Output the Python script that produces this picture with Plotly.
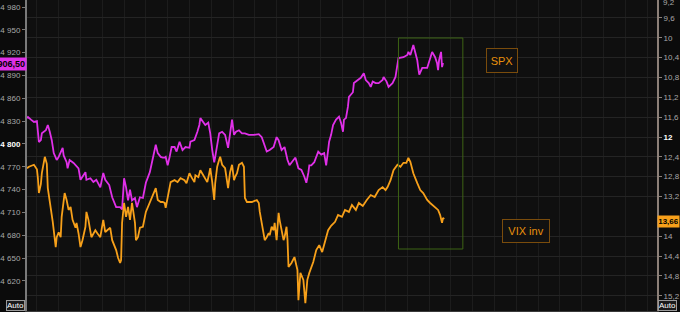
import plotly.graph_objects as go

# ---- data (time index = bar number) ----
spx_bar = [0, 1, 4, 7, 10, 12, 14, 15, 19, 21, 23, 25, 27, 30, 32, 34, 36, 37, 40, 41, 43, 47, 52, 54, 56, 59, 60, 64,
           67, 70, 74, 77, 79, 81, 83, 86, 90, 94, 96, 98, 100, 102, 104, 106, 109, 111, 114, 117, 120, 124, 127, 130,
           132, 135, 137, 139, 140, 142, 144, 145, 146, 149, 151, 154, 157, 160, 164, 165, 169, 172, 174, 175, 178, 180,
           183, 185, 187, 189, 190, 194, 197, 200, 203, 205, 207, 209, 211, 214, 217, 220, 224, 229, 234, 237, 239, 242,
           245, 249, 252, 254, 257, 260, 263, 265, 269, 271, 274, 277, 280, 282, 284, 285, 287, 290, 294, 297, 300, 302,
           304, 305, 307, 309, 312, 315, 317, 319, 320, 322, 324, 325, 329, 330, 334, 337, 340, 342, 345, 347, 349, 352,
           355, 359, 360, 363, 365, 369, 372, 374, 375, 380, 384, 385, 387, 390, 392, 394, 395, 396, 399, 404, 405, 407,
           409, 412, 414, 415, 416, 418, 419, 420]
spx_val = [4834, 4835.5, 4832, 4829, 4830, 4802.6, 4805, 4814, 4818, 4825, 4816, 4805, 4788, 4779, 4783, 4788, 4795,
           4785, 4776, 4768, 4779, 4775, 4768, 4753, 4757, 4763, 4753, 4755, 4750, 4753, 4743, 4762, 4753, 4749, 4746,
           4730, 4717, 4717, 4714, 4755, 4743, 4726, 4740, 4726, 4729, 4717, 4730, 4729, 4749, 4763, 4782, 4799, 4788,
           4783, 4782, 4782, 4783, 4772, 4783, 4792, 4796, 4796, 4790, 4803, 4792, 4796, 4795, 4803, 4805, 4816, 4825,
           4834, 4828, 4825, 4828, 4814, 4792, 4776, 4783, 4814, 4816, 4812, 4795, 4814, 4832, 4812, 4816, 4818, 4814,
           4814, 4812, 4812, 4813, 4809, 4801, 4790, 4792, 4796, 4809, 4805, 4792, 4796, 4779, 4772, 4779, 4782, 4768,
           4766, 4757, 4749, 4762, 4772, 4772, 4776, 4790, 4786, 4788, 4772, 4792, 4803, 4812, 4825, 4832, 4836, 4828,
           4816, 4832, 4834, 4849, 4862, 4868, 4880, 4884, 4887, 4893, 4884, 4880, 4875, 4882, 4880, 4880, 4884, 4888,
           4882, 4875, 4880, 4888, 4906, 4913, 4914, 4917, 4921, 4917, 4930, 4920, 4910, 4900, 4891, 4900, 4900, 4904,
           4914, 4921, 4914, 4906, 4897, 4910, 4921, 4901, 4906.5]

vix_bar = [0, 2, 7, 10, 11, 12, 14, 15, 18, 20, 21, 24, 26, 29, 30, 32, 34, 35, 38, 40, 42, 44, 46, 49, 50, 52, 54, 56,
           59, 60, 62, 65, 69, 71, 74, 77, 79, 81, 84, 86, 90, 92, 94, 95, 96, 98, 100, 102, 104, 106, 109, 110, 112,
           114, 117, 120, 124, 126, 130, 132, 135, 137, 139, 140, 142, 145, 149, 152, 155, 159, 161, 164, 166, 169, 170,
           173, 175, 178, 180, 182, 184, 185, 187, 189, 190, 192, 194, 195, 197, 200, 203, 205, 207, 209, 210, 212, 214,
           217, 219, 220, 222, 227, 232, 234, 235, 237, 240, 242, 244, 245, 247, 249, 250, 252, 254, 255, 257, 259, 260,
           262, 263, 264, 267, 270, 273, 274, 276, 279, 281, 283, 285, 286, 289, 292, 295, 298, 301, 304, 307, 311, 314,
           318, 321, 325, 328, 332, 335, 339, 343, 347, 351, 355, 359, 362, 364, 367, 370, 374, 377, 380, 383, 385, 387,
           390, 394, 397, 400, 404, 407, 409, 412, 415, 417, 419, 420, 421]
vix_val = [12.63, 12.60, 12.56, 12.65, 12.83, 13.13, 12.95, 12.73, 12.40, 12.54, 13.03, 13.41, 13.71, 14.22, 14.02,
           13.92, 14.02, 13.61, 13.13, 13.27, 13.47, 13.41, 13.67, 13.83, 13.73, 13.94, 14.22, 14.08, 13.81, 13.51,
           13.67, 14.02, 13.88, 13.94, 14.02, 13.67, 13.92, 13.88, 13.83, 14.08, 14.28, 14.44, 14.54, 14.48, 13.73,
           13.33, 13.61, 13.41, 13.67, 13.33, 13.73, 14.08, 14.02, 13.83, 13.81, 13.51, 13.33, 13.21, 13.03, 13.27,
           13.31, 13.31, 13.33, 13.43, 13.21, 12.91, 12.87, 12.91, 12.83, 12.87, 12.93, 12.73, 12.81, 12.91, 12.77,
           12.81, 12.67, 12.77, 12.83, 12.91, 12.73, 12.63, 12.91, 13.27, 12.93, 12.60, 12.46, 12.40, 12.56, 12.63,
           13.03, 12.71, 12.56, 12.87, 12.81, 12.73, 12.56, 12.52, 12.60, 13.23, 13.31, 13.31, 13.27, 13.33, 13.51,
           13.71, 14.08, 14.02, 13.94, 13.98, 13.81, 13.88, 13.73, 14.08, 13.53, 13.67, 13.88, 14.08, 14.02, 13.81,
           14.08, 14.62, 14.54, 14.42, 14.68, 15.29, 14.74, 14.88, 15.35, 14.88, 14.74, 14.68, 14.52, 14.28, 14.18,
           14.32, 14.08, 13.88, 13.79, 13.71, 13.57, 13.61, 13.47, 13.51, 13.37, 13.47, 13.33, 13.39, 13.27, 13.17,
           13.21, 13.07, 13.01, 13.07, 13.01, 12.87, 12.67, 12.56, 12.60, 12.52, 12.52, 12.42, 12.50, 12.73, 12.93,
           13.07, 13.13, 13.27, 13.33, 13.37, 13.43, 13.47, 13.57, 13.73, 13.63, 13.66]

spx_ticks = [4620, 4650, 4680, 4710, 4740, 4770, 4800, 4830, 4860, 4890, 4920, 4950, 4980]
vix_ticks = [9.6, 10, 10.4, 10.8, 11.2, 11.6, 12, 12.4, 12.8, 13.2, 14, 14.4, 14.8, 15.2]
vix_top_tick = "9,2"
spx_last_label = "4 906,50"
vix_last_label = "13,66"

# ---- layout geometry (pixels) ----
W, H = 680, 312
L, R, T, B = 23, 21, 0, 1
PW, PH = W - L - R, H - T - B


def px(x):
    return (x - L) / PW


def py(y):
    return 1 - (y - T) / PH


WHITE = "<span style='color:#ffffff'><b>{}</b></span>"


def fmt_spx(v):
    s = f"{v:,}".replace(",", " ")
    return WHITE.format(s) if v == 4800 else s


def fmt_vix(v):
    s = (f"{v:g}").replace(".", ",")
    return WHITE.format(s) if v == 12 else s


spx_text = [fmt_spx(v) for v in spx_ticks]
vix_text = [fmt_vix(v) for v in vix_ticks]

MAG = "#e030e8"
ORG = "#f7a01a"
FAM = "Liberation Sans, Arial, sans-serif"

fig = go.Figure()
fig.add_trace(go.Scatter(x=spx_bar, y=spx_val, mode="lines", yaxis="y",
                         line=dict(color=MAG, width=1.8), hoverinfo="skip"))
fig.add_trace(go.Scatter(x=vix_bar, y=vix_val, mode="lines", yaxis="y2",
                         line=dict(color=ORG, width=1.8), hoverinfo="skip"))

font = dict(family=FAM, size=8, color="#a8a8a8")

fig.update_layout(
    width=W, height=H,
    margin=dict(l=L, r=R, t=T, b=B, pad=0),
    paper_bgcolor="#0b0b0b",
    plot_bgcolor="#0f0f0f",
    showlegend=False,
    font=font,
    xaxis=dict(range=[0, PW], showticklabels=False, showgrid=True, gridcolor="#1c1c1c",
               gridwidth=1, dtick=22, tick0=10, zeroline=False, showline=True,
               linecolor="#3a3a3a", ticks="", fixedrange=True),
    yaxis=dict(range=[4980 - (H - 7 - B) / 0.761, 4980 + 7 / 0.761],
               tickvals=spx_ticks, ticktext=spx_text, showgrid=False, zeroline=False,
               showline=True, linecolor="#7a7a7a", linewidth=2, ticks="outside", ticklen=3,
               tickcolor="#7a7a7a", tickfont=font, side="left"),
    yaxis2=dict(range=[12 + (H - B - 137) / 49.6, 12 - 137 / 49.6],
                overlaying="y", side="right", tickvals=vix_ticks, ticktext=vix_text,
                showgrid=True, gridcolor="#242424", gridwidth=1, zeroline=False,
                showline=True, linecolor="#8c8078", linewidth=2, ticks="outside", ticklen=3,
                tickcolor="#8c8078", tickfont=font),
)

# top (partly cut) right-axis label
fig.add_annotation(xref="paper", yref="paper", x=px(663), y=py(2), xanchor="left", yanchor="middle",
                   text=vix_top_tick, showarrow=False, font=font)

# green highlight box
fig.add_shape(type="rect", xref="paper", yref="paper",
              x0=px(398), x1=px(463), y0=py(249), y1=py(38),
              line=dict(color="#3d6414", width=1), fillcolor="rgba(0,0,0,0)")

# series labels
fig.add_annotation(xref="paper", yref="paper", x=px(503), y=py(60.5), xanchor="center", yanchor="middle",
                   text="SPX", showarrow=False, font=dict(family=FAM, size=11, color="#e8900c"),
                   bgcolor="#111111", bordercolor="#7a4c0c", borderwidth=1, width=28, height=21)
fig.add_annotation(xref="paper", yref="paper", x=px(527), y=py(231), xanchor="center", yanchor="middle",
                   text="VIX inv", showarrow=False, font=dict(family=FAM, size=11, color="#e8900c"),
                   bgcolor="#111111", bordercolor="#7a4c0c", borderwidth=1, width=44, height=20)

# last value labels
fig.add_annotation(xref="paper", yref="paper", x=px(23), y=py(64), xanchor="right", yanchor="middle",
                   text="<b>" + spx_last_label + "</b>", showarrow=False,
                   font=dict(family=FAM, size=9, color="#000000"), bgcolor=MAG, borderpad=1)
fig.add_annotation(xref="paper", yref="paper", x=px(659), y=py(221), xanchor="left", yanchor="middle",
                   text="<b>" + vix_last_label + "</b>", showarrow=False,
                   font=dict(family=FAM, size=8, color="#000000"), bgcolor=ORG, borderpad=1, width=19)

# "Auto" buttons
for xc in (11, 670):
    fig.add_annotation(xref="paper", yref="paper", x=px(xc), y=py(305), xanchor="center", yanchor="middle",
                       text="Auto", showarrow=False, font=dict(family=FAM, size=8, color="#ffffff"),
                       bgcolor="#1a1a1a", bordercolor="#9a9a9a", borderwidth=1, borderpad=0)

fig.write_html("out.html", config={"displayModeBar": False})
